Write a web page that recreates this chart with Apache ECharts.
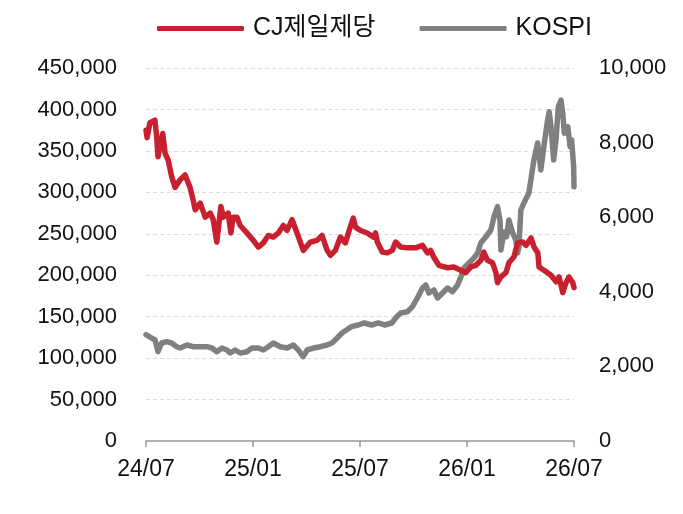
<!DOCTYPE html>
<html><head><meta charset="utf-8">
<script src="https://cdn.jsdelivr.net/npm/echarts@6/dist/echarts.min.js"></script>
<style>html,body{margin:0;padding:0;background:#fff}#c{width:683px;height:514px}</style>
</head><body><div id="c"></div>
<script>
// x positions are months elapsed since 2024-07
const xTickLabels = ['24/07','25/01','25/07','26/01','26/07'];
const seriesNames = ['CJ제일제당','KOSPI'];

const cjMonths = [0.00,0.06,0.22,0.50,0.60,0.67,0.94,1.07,1.24,1.44,1.63,1.91,2.19,2.47,2.64,2.76,3.04,3.32,3.60,3.77,3.97,4.20,4.33,4.61,4.76,4.89,5.10,5.28,5.66,6.02,6.30,6.58,6.86,7.14,7.42,7.70,7.91,8.19,8.47,8.82,9.22,9.59,9.87,10.16,10.34,10.62,10.90,11.18,11.35,11.62,11.75,12.03,12.40,12.76,12.87,12.97,13.25,13.53,13.81,14.00,14.28,14.66,15.12,15.50,15.78,15.96,16.13,16.42,16.90,17.26,17.65,17.93,18.21,18.50,18.78,18.94,19.15,19.43,19.62,19.71,19.90,20.18,20.35,20.63,20.84,21.12,21.31,21.59,21.76,21.97,22.04,22.32,22.71,23.00,23.16,23.37,23.55,23.72,23.93,24.00];
const cjValues = [375000,366000,384000,387000,367000,343000,371000,347000,339000,319000,306000,315000,321000,306000,291000,279000,287000,270000,275000,267000,240000,283000,270000,275000,251000,270000,270000,260000,251000,242000,234000,239000,248000,246000,251000,260000,254000,267000,251000,230000,240000,242000,248000,230000,224000,230000,246000,239000,251000,269000,258000,254000,251000,246000,251000,240000,228000,227000,230000,240000,234000,233000,233000,236000,227000,230000,222000,212000,209000,210000,206000,203000,210000,212000,218000,228000,218000,215000,203000,191000,198000,203000,215000,222000,239000,240000,236000,245000,234000,227000,210000,206000,200000,192000,198000,179000,191000,198000,191000,185000];

const kospiMonths = [0.00,0.32,0.51,0.67,0.88,1.16,1.44,1.72,1.91,2.29,2.64,3.04,3.42,3.70,3.97,4.26,4.54,4.72,5.00,5.28,5.66,5.94,6.30,6.58,6.86,7.14,7.53,7.91,8.26,8.54,8.81,9.04,9.39,9.78,10.16,10.43,10.72,10.99,11.24,11.52,11.90,12.25,12.65,13.02,13.38,13.78,14.06,14.28,14.66,14.94,15.22,15.50,15.69,15.86,16.14,16.35,16.63,16.91,17.19,17.47,17.66,17.83,18.11,18.39,18.60,18.77,19.05,19.34,19.51,19.71,19.85,19.90,20.07,20.22,20.35,20.56,20.74,20.84,20.91,21.02,21.19,21.47,21.75,21.96,22.03,22.14,22.31,22.52,22.61,22.71,22.86,22.99,23.12,23.27,23.37,23.46,23.65,23.78,23.87,23.98,24.00];
const kospiValues = [2850,2761,2708,2394,2627,2662,2627,2528,2493,2574,2528,2528,2528,2493,2394,2493,2440,2359,2440,2359,2394,2493,2493,2440,2528,2627,2528,2493,2574,2440,2260,2440,2493,2528,2574,2627,2761,2895,2976,3066,3110,3164,3110,3164,3110,3164,3333,3432,3466,3601,3834,4102,4182,3968,4048,3834,3968,4102,4003,4182,4405,4638,4772,4906,5040,5308,5469,5657,6005,6282,5925,5120,5603,5478,5925,5577,5389,5040,5201,6193,6381,6649,7534,7989,7989,7265,7891,8606,8828,8427,7534,8070,8962,9142,8785,8248,8427,7891,8070,7355,6819];

const leftAxis = {min:0, max:450000, interval:50000};
const rightAxis = {min:0, max:10000, interval:2000};

const FONT = "'Liberation Sans','Noto Sans CJK KR',sans-serif";
const fmt = v => v === 0 ? '0' : v.toLocaleString('en-US');
const pair = (xs, ys) => xs.map((x,i)=>[x, ys[i]]);

const chart = echarts.init(document.getElementById('c'), null, {renderer:'canvas'});
chart.setOption({
  animation:false,
  backgroundColor:'#fff',
  textStyle:{fontFamily:FONT},
  legend:{
    top:11, left:152, itemGap:44, itemWidth:87, itemHeight:5, icon:'roundRect',
    textStyle:{fontSize:25, color:'#111', fontFamily:FONT, padding:[0,0,0,4]},
    data:seriesNames
  },
  grid:{left:146, right:109, top:68, bottom:73, containLabel:false},
  xAxis:{
    type:'value', min:0, max:24, interval:6,
    axisLine:{show:true, lineStyle:{color:'#999', width:1.5}},
    axisTick:{show:true, length:6, lineStyle:{color:'#999', width:1.5}},
    splitLine:{show:false},
    axisLabel:{margin:17, fontSize:23, color:'#111', fontFamily:FONT,
      formatter:v => xTickLabels[Math.round(v/6)]}
  },
  yAxis:[
    {type:'value', min:leftAxis.min, max:leftAxis.max, interval:leftAxis.interval,
     axisLine:{show:false}, axisTick:{show:false},
     splitLine:{show:true, lineStyle:{color:'#dcdcdc', type:[4,3], width:1}},
     axisLabel:{margin:29, fontSize:22, color:'#111', fontFamily:FONT, formatter:fmt}},
    {type:'value', min:rightAxis.min, max:rightAxis.max, interval:rightAxis.interval,
     axisLine:{show:false}, axisTick:{show:false}, splitLine:{show:false},
     axisLabel:{margin:25, fontSize:22, color:'#111', fontFamily:FONT, formatter:fmt}}
  ],
  series:[
    {name:seriesNames[0], type:'line', yAxisIndex:0, showSymbol:false, symbol:'none',
     data:pair(cjMonths, cjValues), z:3,
     itemStyle:{color:'#C8202F'},
     lineStyle:{color:'#C8202F', width:5.5, cap:'round', join:'round'}},
    {name:seriesNames[1], type:'line', yAxisIndex:1, showSymbol:false, symbol:'none',
     data:pair(kospiMonths, kospiValues), z:2,
     itemStyle:{color:'#808080'},
     lineStyle:{color:'#808080', width:5.5, cap:'round', join:'round'}}
  ]
});
</script></body></html>
